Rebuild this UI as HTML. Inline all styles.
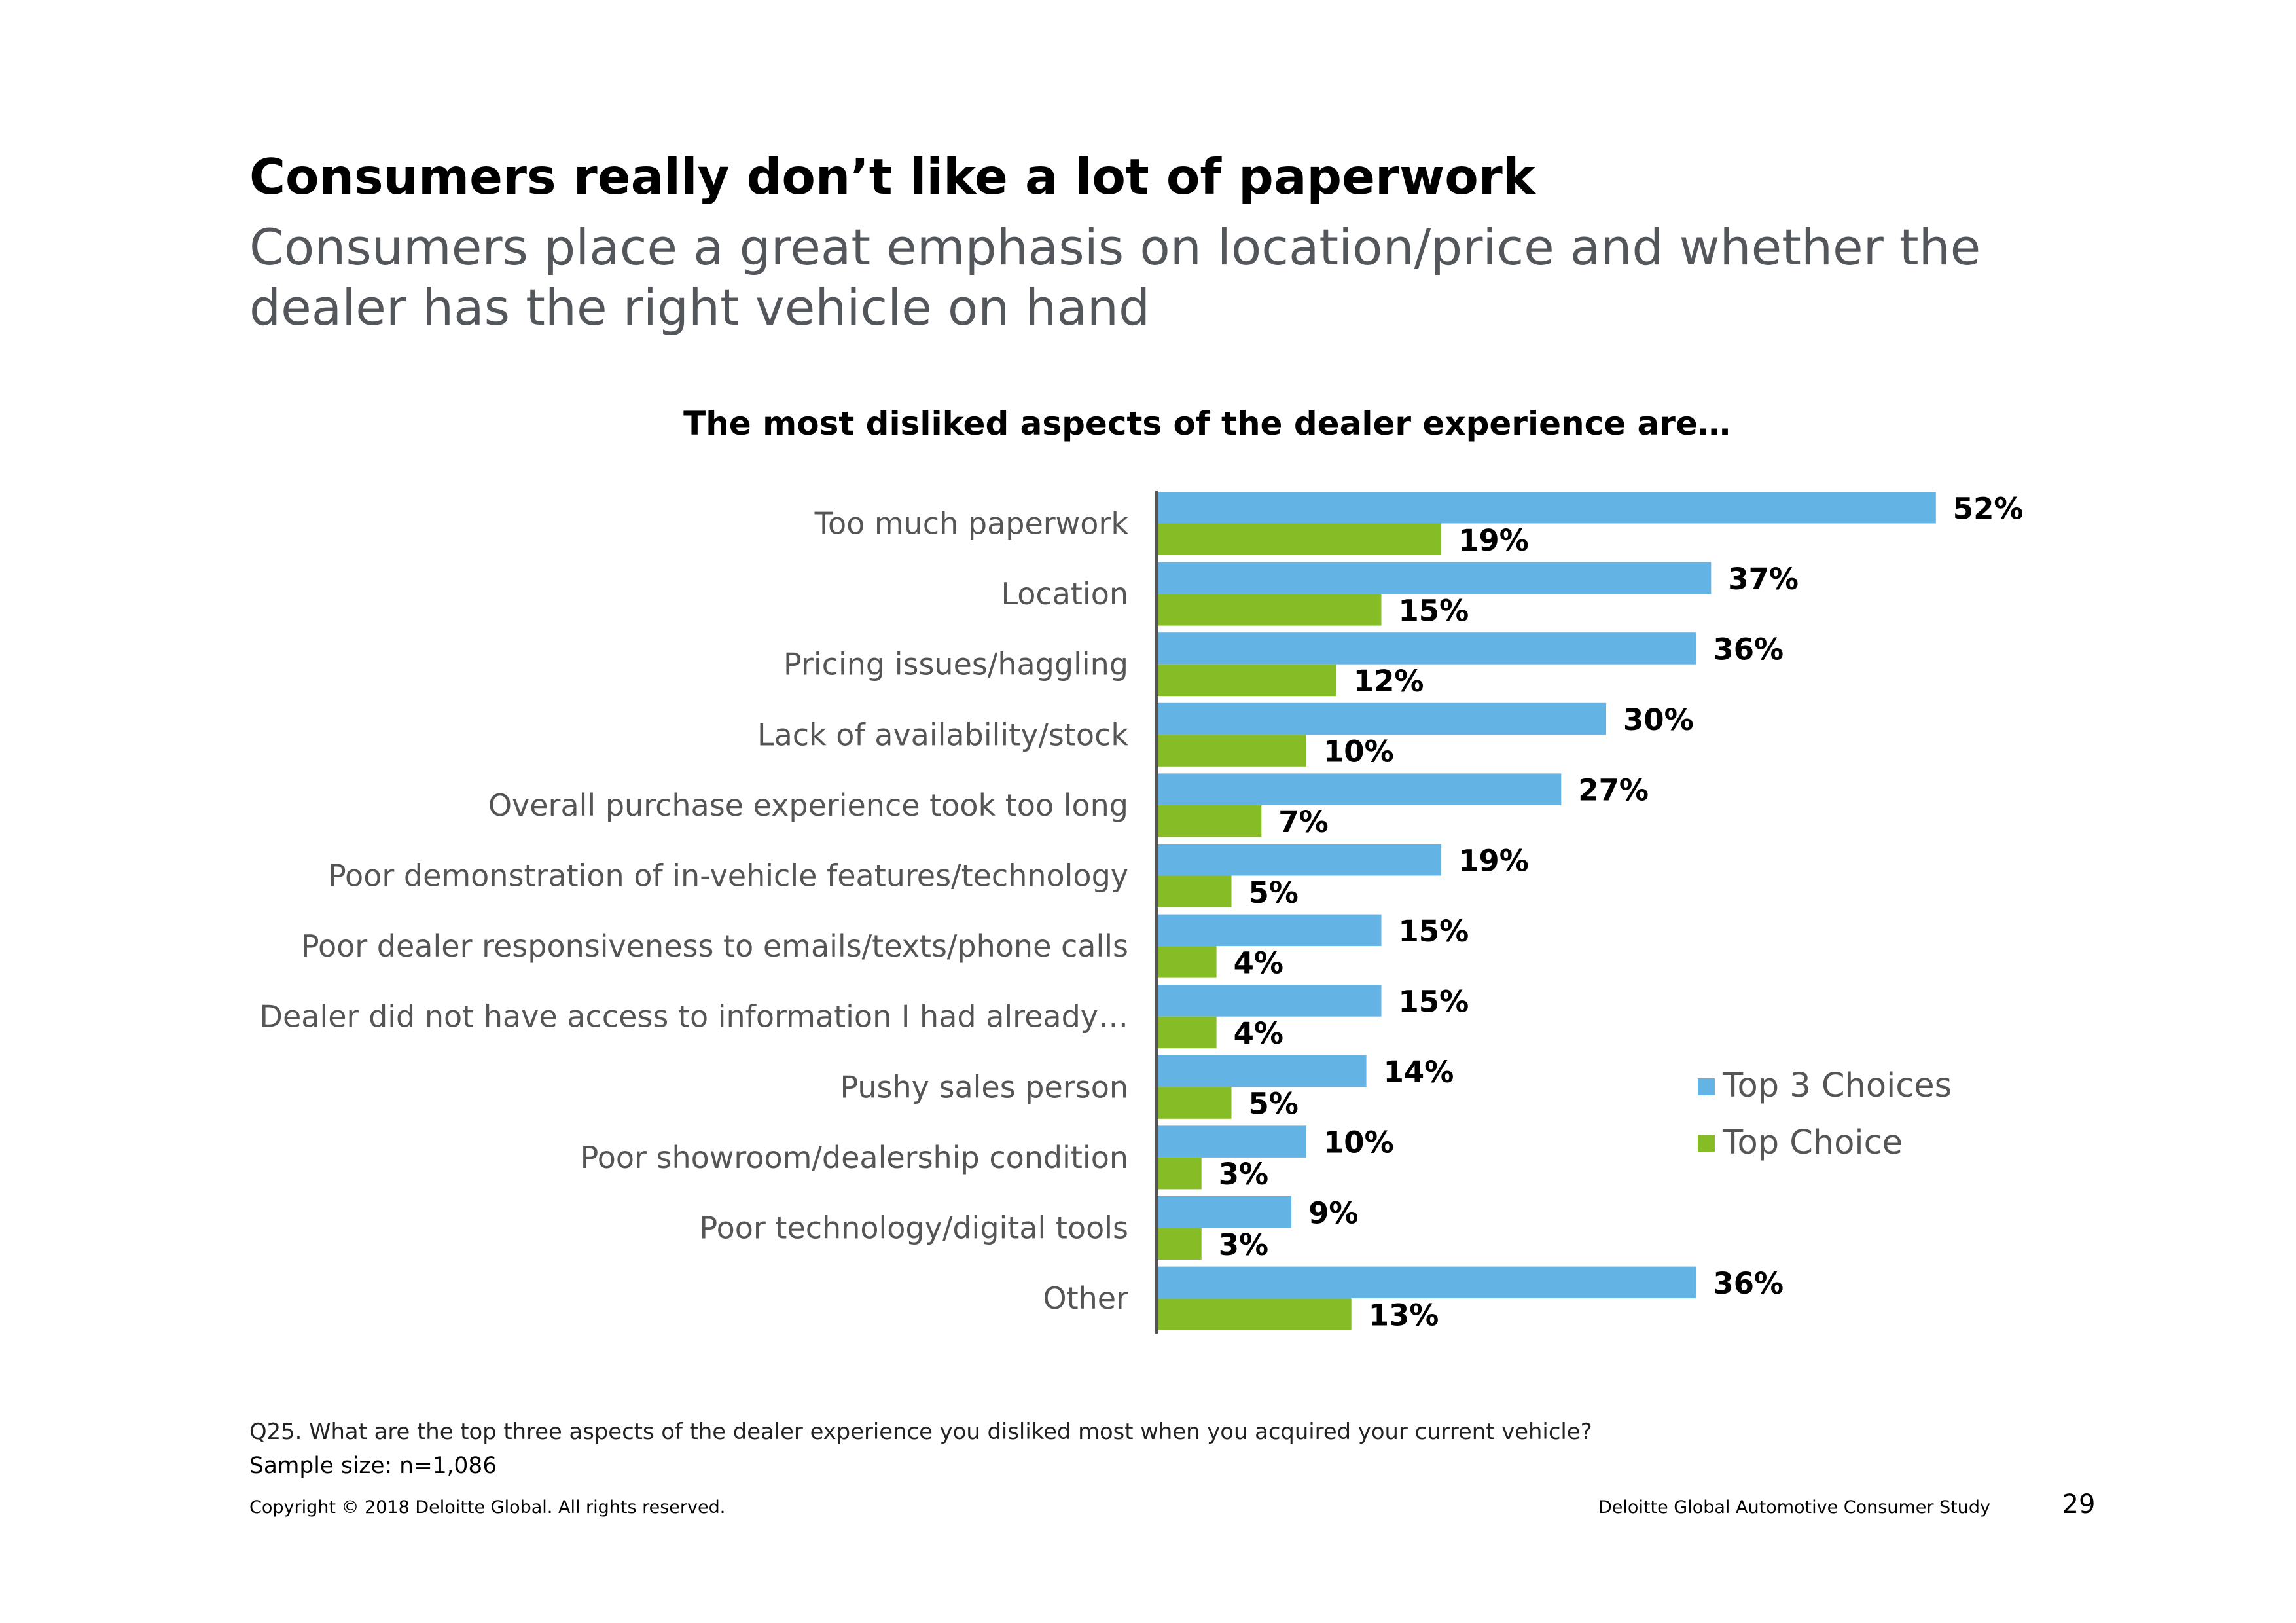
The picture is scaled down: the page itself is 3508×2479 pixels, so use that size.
<!DOCTYPE html>
<html><head><meta charset="utf-8"><style>
body{margin:0;background:#fff;}
svg{display:block;font-family:"DejaVu Sans","Liberation Sans",sans-serif;}
</style></head><body>
<svg id="c" width="3508" height="2479" viewBox="0 0 3508 2479" xmlns="http://www.w3.org/2000/svg">
<text x="381" y="296" font-size="75" font-weight="bold" fill="#000">Consumers really don’t like a lot of paperwork</text>
<text x="381" y="404" font-size="75.8" fill="#53565a">Consumers place a great emphasis on location/price and whether the</text>
<text x="381" y="496" font-size="75.8" fill="#53565a">dealer has the right vehicle on hand</text>
<text x="1844" y="664" font-size="50" font-weight="bold" fill="#000" text-anchor="middle">The most disliked aspects of the dealer experience are…</text>
<g id="plot"></g>
<line x1="1767" y1="750" x2="1767" y2="2037" stroke="#555" stroke-width="4"/>
<rect x="2594" y="1647" width="26" height="26" fill="#63b3e4"/>
<text x="2632" y="1675" font-size="51" fill="#555">Top 3 Choices</text>
<rect x="2594" y="1733" width="26" height="26" fill="#86bc25"/>
<text x="2632" y="1762" font-size="51" fill="#555">Top Choice</text>
<text x="381" y="2198" font-size="33.8" fill="#222">Q25. What are the top three aspects of the dealer experience you disliked most when you acquired your current vehicle?</text>
<text x="381" y="2250" font-size="34.4" fill="#000">Sample size: n=1,086</text>
<text x="381" y="2311" font-size="27" fill="#000">Copyright © 2018 Deloitte Global. All rights reserved.</text>
<text x="3041" y="2311" font-size="27" fill="#000" text-anchor="end">Deloitte Global Automotive Consumer Study</text>
<text x="3176" y="2311" font-size="40" fill="#000" text-anchor="middle">29</text>
</svg>
<script>
const categories=["Too much paperwork","Location","Pricing issues/haggling","Lack of availability/stock","Overall purchase experience took too long","Poor demonstration of in-vehicle features/technology","Poor dealer responsiveness to emails/texts/phone calls","Dealer did not have access to information I had already…","Pushy sales person","Poor showroom/dealership condition","Poor technology/digital tools","Other"];
const top3=[52,37,36,30,27,19,15,15,14,10,9,36];
const topChoice=[19,15,12,10,7,5,4,4,5,3,3,13];
const x0=1767,pxPer=22.9,y0=751,pitch=107.6,bh=48.5;
const xs=v=>x0+v*pxPer;
const ns="http://www.w3.org/2000/svg";
const g=document.getElementById('plot');
function mk(t,a){const e=document.createElementNS(ns,t);for(const k in a)e.setAttribute(k,a[k]);g.appendChild(e);return e;}
categories.forEach((c,i)=>{
  const yt=y0+i*pitch;
  const lab=mk('text',{x:1724,y:yt+bh+16,'font-size':46,fill:'#555','text-anchor':'end'});
  lab.textContent=c;
  
  
  const b1=mk('rect',{x:x0,y:yt,width:xs(top3[i])-x0,height:bh,fill:'#63b3e4'});
  
  
  const b2=mk('rect',{x:x0,y:yt+bh,width:xs(topChoice[i])-x0,height:bh,fill:'#86bc25'});
  
  
  const v1=mk('text',{x:xs(top3[i])+26,y:yt+bh/2+17,'font-size':45,'font-weight':'bold',fill:'#000'});
  v1.textContent=top3[i]+'%';
  
  
  const v2=mk('text',{x:xs(topChoice[i])+26,y:yt+bh*1.5+17,'font-size':45,'font-weight':'bold',fill:'#000'});
  v2.textContent=topChoice[i]+'%';
  
  
});
</script>
</body></html>
